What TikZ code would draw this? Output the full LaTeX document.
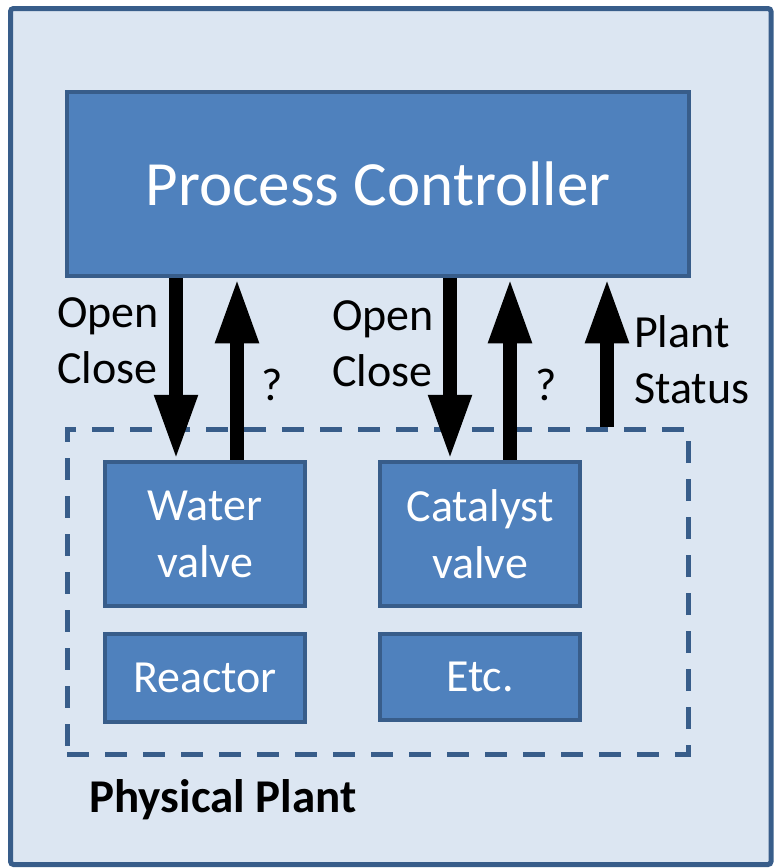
\documentclass[tikz,border=0pt]{standalone}
\usepackage{fontspec}
\setmainfont{Carlito}
\usetikzlibrary{arrows.meta}
\definecolor{bgblue}{HTML}{DCE6F2}
\definecolor{boxblue}{HTML}{4F81BD}
\definecolor{edgeblue}{HTML}{385D8A}

\begin{document}
\begin{tikzpicture}[x=1pt,y=-1pt,
  box/.style={draw=edgeblue, fill=boxblue, line width=4.5pt, text=white, align=center,
    font=\fontsize{46}{57}\selectfont, inner sep=0pt},
  lbl/.style={align=left, font=\fontsize{46}{56}\selectfont, inner sep=0pt},
  sig/.style={line width=14pt, -{Triangle[width=40pt,length=65pt]}}]
\useasboundingbox (0,0) rectangle (775,868);
\draw[draw=edgeblue, fill=bgblue, line width=5pt, rounded corners=3pt] (10.5,8.5) rectangle (771,864.5);
% controller and plant
\node[box, minimum width=622pt, minimum height=184pt, font=\fontsize{63}{70}\selectfont] (ctrl) at (378,184) {Process Controller};
\node[draw=edgeblue, line width=5pt, dash pattern=on 22pt off 16pt, minimum width=621pt, minimum height=325pt] (plant) at (377.5,591.5) {};
\node[box, minimum width=200pt, minimum height=144pt] (water) at (205,534) {Water\\valve};
\node[box, minimum width=200pt, minimum height=144pt] (cat) at (480,534) {Catalyst\\valve};
\node[box, minimum width=200pt, minimum height=88pt] (reactor) at (205,678) {Reactor};
\node[box, minimum width=200pt, minimum height=86pt] (etc) at (480,677) {Etc.};
\node[font=\fontsize{47}{56}\selectfont\bfseries, inner sep=0pt] (plantlbl) at (223,800) {Physical Plant};
% signals
\draw[sig] (ctrl.south -| 176,0) -- (water.north -| 176,0);
\draw[sig] (water.north -| 237,0) -- (ctrl.south -| 237,0);
\draw[sig] (ctrl.south -| 450,0) -- (cat.north -| 450,0);
\draw[sig] (cat.north -| 510,0) -- (ctrl.south -| 510,0);
\draw[sig] (plant.north -| 607,0) -- (ctrl.south -| 607,0);
\node[lbl, anchor=west] (oc1) at (57,341) {Open\\Close};
\node[lbl, anchor=west] (oc2) at (332,344) {Open\\Close};
\node[lbl] (q1) at (272,385) {?};
\node[lbl] (q2) at (546,385) {?};
\node[lbl, anchor=west] (status) at (634,360) {Plant\\Status};
\end{tikzpicture}
\end{document}
